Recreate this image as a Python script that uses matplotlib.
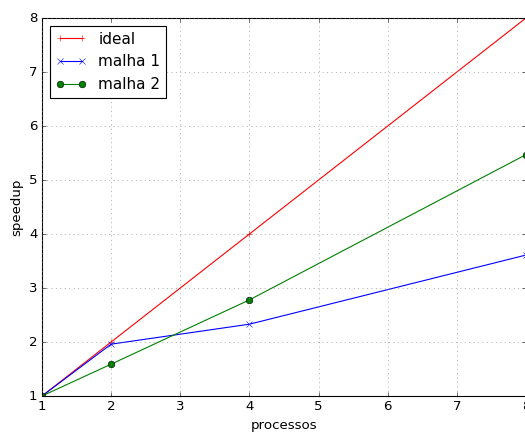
import matplotlib
matplotlib.use('Agg')
import matplotlib.pyplot as plt

plt.style.use('classic')

procs = [1, 2, 4, 8]
ideal = [1, 2, 4, 8]
malha1 = [1, 1.96, 2.33, 3.61]
malha2 = [1, 1.59, 2.78, 5.47]

DPI = 80
fig = plt.figure(figsize=(525/DPI, 432/DPI), dpi=DPI)
fig.patch.set_facecolor('white')
ax = fig.add_axes([42/525, 1-396/432, 484/525, 378/432])
ax.plot(procs, ideal, 'r+-', label='ideal')
ax.plot(procs, malha1, 'bx-', label='malha 1')
ax.plot(procs, malha2, 'go-', label='malha 2')
ax.set_xlim(1, 8)
ax.set_ylim(1, 8)
ax.grid(True, color='gray')
ax.set_xlabel('processos')
ax.set_ylabel('speedup')
ax.legend(loc='upper left', fontsize=13.7, handlelength=2.0)
fig.savefig('out.png', dpi=DPI, facecolor='white')
